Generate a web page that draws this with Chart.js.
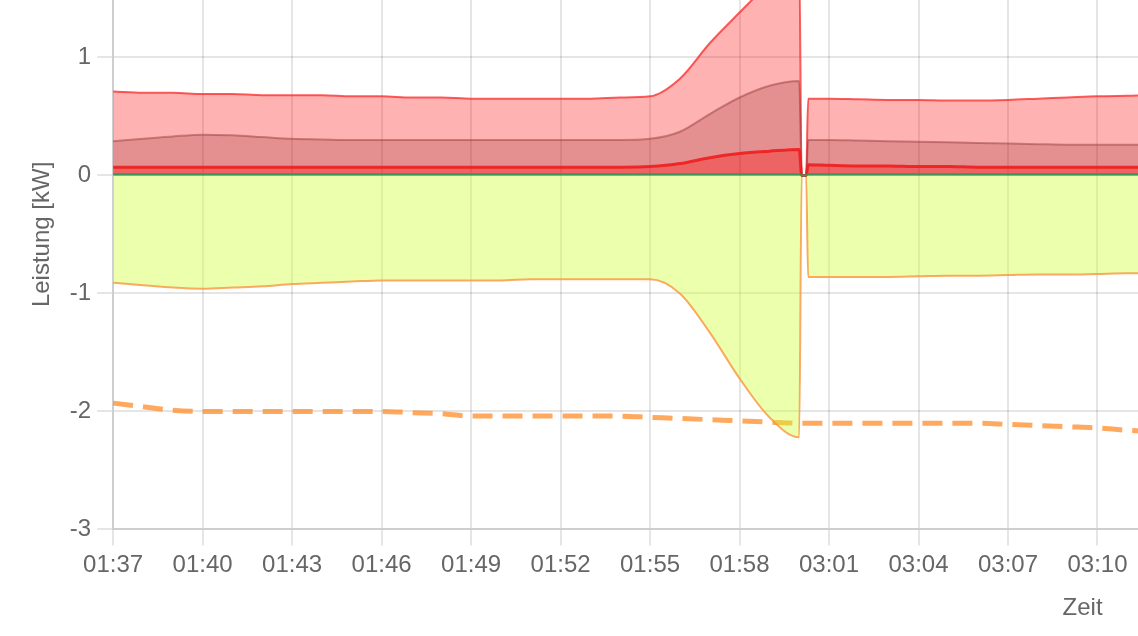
<!DOCTYPE html>
<html>
<head>
<meta charset="utf-8">
<script src="https://cdn.jsdelivr.net/npm/chart.js@4"></script>
<style>
  html, body { margin: 0; padding: 0; width: 1138px; height: 636px; overflow: hidden; background: #fff; }
  #wrap { position: absolute; left: 0; top: -81px; width: 1044px; height: 362px; transform: scale(2); transform-origin: 0 0; }
</style>
</head>
<body>
<div id="wrap"><canvas id="leistungChart"></canvas></div>
<script>
// sample times (the hour without data between 02:00 and 03:00 is left out of the axis)
const zeit = [
  '01:37', '01:38', '01:39', '01:40', '01:41', '01:42', '01:43', '01:44', '01:45', '01:46',
  '01:47', '01:48', '01:49', '01:50', '01:51', '01:52', '01:53', '01:54', '01:55', '01:56',
  '01:57', '01:58', '01:59', '02:00', '02:00:05', '03:00:14', '03:00:18',
  '03:01', '03:02', '03:03', '03:04', '03:05', '03:06', '03:07', '03:08', '03:09', '03:10',
  '03:11', '03:12', '03:15', '03:20', '03:25', '03:30', '03:35', '03:42'
];

// kW values
const verbrauchGesamt = [
  0.71, 0.70, 0.70, 0.69, 0.69, 0.68, 0.68, 0.68, 0.67, 0.67,
  0.66, 0.66, 0.65, 0.65, 0.65, 0.65, 0.65, 0.66, 0.67, 0.82,
  1.12, 1.38, 1.63, 1.85, 0, 0, 0.65,
  0.65, 0.645, 0.64, 0.64, 0.635, 0.635, 0.64, 0.65, 0.66, 0.67,
  0.675, 0.68, 0.68, 0.68, 0.67, 0.67, 0.68, 0.68
];
const verbrauchMitte = [
  0.29, 0.31, 0.33, 0.345, 0.34, 0.325, 0.31, 0.305, 0.30, 0.30,
  0.30, 0.30, 0.30, 0.30, 0.30, 0.30, 0.30, 0.30, 0.31, 0.37,
  0.52, 0.66, 0.76, 0.80, 0, 0, 0.30,
  0.30, 0.295, 0.29, 0.285, 0.28, 0.275, 0.27, 0.265, 0.26, 0.26,
  0.26, 0.26, 0.26, 0.26, 0.26, 0.26, 0.26, 0.26
];
const verbrauchBasis = [
  0.07, 0.07, 0.07, 0.07, 0.07, 0.07, 0.07, 0.07, 0.07, 0.07,
  0.07, 0.07, 0.07, 0.07, 0.07, 0.07, 0.07, 0.07, 0.075, 0.10,
  0.15, 0.185, 0.205, 0.22, 0, 0, 0.09,
  0.085, 0.08, 0.08, 0.075, 0.075, 0.07, 0.07, 0.07, 0.07, 0.07,
  0.07, 0.07, 0.07, 0.07, 0.07, 0.07, 0.07, 0.07
];
const netz = [
  0.01, 0.01, 0.01, 0.01, 0.01, 0.01, 0.01, 0.01, 0.01, 0.01,
  0.01, 0.01, 0.01, 0.01, 0.01, 0.01, 0.01, 0.01, 0.01, 0.01,
  0.01, 0.01, 0.01, 0.01, 0, 0, 0.01,
  0.01, 0.01, 0.01, 0.01, 0.01, 0.01, 0.01, 0.01, 0.01, 0.01,
  0.01, 0.01, 0.01, 0.01, 0.01, 0.01, 0.01, 0.01
];
const erzeugung = [
  -0.91, -0.93, -0.95, -0.96, -0.95, -0.94, -0.92, -0.91, -0.90, -0.89,
  -0.89, -0.89, -0.89, -0.89, -0.88, -0.88, -0.88, -0.88, -0.88, -1.00,
  -1.33, -1.72, -2.05, -2.22, 0, 0, -0.86,
  -0.86, -0.86, -0.86, -0.855, -0.85, -0.85, -0.845, -0.84, -0.84, -0.835,
  -0.83, -0.83, -0.83, -0.83, -0.84, -0.84, -0.83, -0.83
];
const prognose = [
  -1.93, -1.96, -1.99, -2.00, -2.00, -2.00, -2.00, -2.00, -2.00, -2.00,
  -2.01, -2.02, -2.04, -2.04, -2.04, -2.04, -2.04, -2.04, -2.05, -2.06,
  -2.07, -2.08, -2.09, -2.10, null, null, -2.10,
  -2.10, -2.10, -2.10, -2.10, -2.10, -2.10, -2.11, -2.12, -2.13, -2.14,
  -2.16, -2.17, -2.18, -2.19, -2.20, -2.20, -2.21, -2.21
];

const START = 97;   // 01:37 in minutes
const LUECKE = 60;  // skipped hour

function toMin(t) {
  const p = t.split(':').map(Number);
  let m = p[0] * 60 + p[1] + (p[2] || 0) / 60;
  if (m >= 180) m -= LUECKE;
  return m - START;
}
function toLabel(v) {
  let m = v + START;
  if (m > 120) m += LUECKE;
  const h = Math.floor(m / 60), mm = Math.round(m % 60);
  return String(h).padStart(2, '0') + ':' + String(mm).padStart(2, '0');
}
const pts = arr => arr.map((y, i) => ({ x: toMin(zeit[i]), y: y }));

const ctx = document.getElementById('leistungChart').getContext('2d');
new Chart(ctx, {
  type: 'line',
  data: {
    datasets: [{
      label: 'Netz',
      data: pts(netz),
      borderColor: 'rgb(60, 150, 90)',
      borderWidth: 1,
      fill: false
    }, {
      label: 'Grundlast',
      data: pts(verbrauchBasis),
      borderColor: 'rgba(240, 30, 30, 0.9)',
      backgroundColor: 'rgba(255, 0, 0, 0.3)',
      borderWidth: 1.5,
      fill: 'origin'
    }, {
      label: 'Geräte',
      data: pts(verbrauchMitte),
      borderColor: 'rgba(140, 50, 50, 0.45)',
      backgroundColor: 'rgba(150, 40, 40, 0.25)',
      borderWidth: 1,
      fill: 'origin'
    }, {
      label: 'Verbrauch',
      data: pts(verbrauchGesamt),
      borderColor: 'rgba(250, 40, 40, 0.75)',
      backgroundColor: 'rgba(255, 0, 0, 0.3)',
      borderWidth: 1,
      fill: 'origin'
    }, {
      label: 'Erzeugung',
      data: pts(erzeugung),
      borderColor: 'rgba(250, 150, 60, 0.8)',
      backgroundColor: 'rgba(205, 255, 50, 0.4)',
      borderWidth: 1,
      fill: 'origin'
    }, {
      label: 'Prognose',
      data: pts(prognose),
      borderColor: 'rgba(255, 140, 40, 0.75)',
      borderWidth: 2.5,
      borderDash: [10, 5],
      spanGaps: true,
      fill: false
    }]
  },
  options: {
    responsive: true,
    maintainAspectRatio: false,
    devicePixelRatio: 2,
    animation: false,
    layout: { padding: { left: 10, bottom: 6, right: 0, top: 0 } },
    elements: {
      point: { radius: 0 },
      line: { cubicInterpolationMode: 'monotone' }
    },
    plugins: {
      legend: { display: false },
      tooltip: { enabled: false }
    },
    scales: {
      x: {
        type: 'linear',
        bounds: 'data',
        ticks: { stepSize: 3, maxRotation: 0, includeBounds: false, callback: v => toLabel(v) },
        title: { display: true, text: 'Zeit' }
      },
      y: {
        min: -3,
        max: 2,
        ticks: { stepSize: 1 },
        title: { display: true, text: 'Leistung [kW]', padding: { top: 4, bottom: 3.5 } }
      }
    }
  }
});
</script>
</body>
</html>
